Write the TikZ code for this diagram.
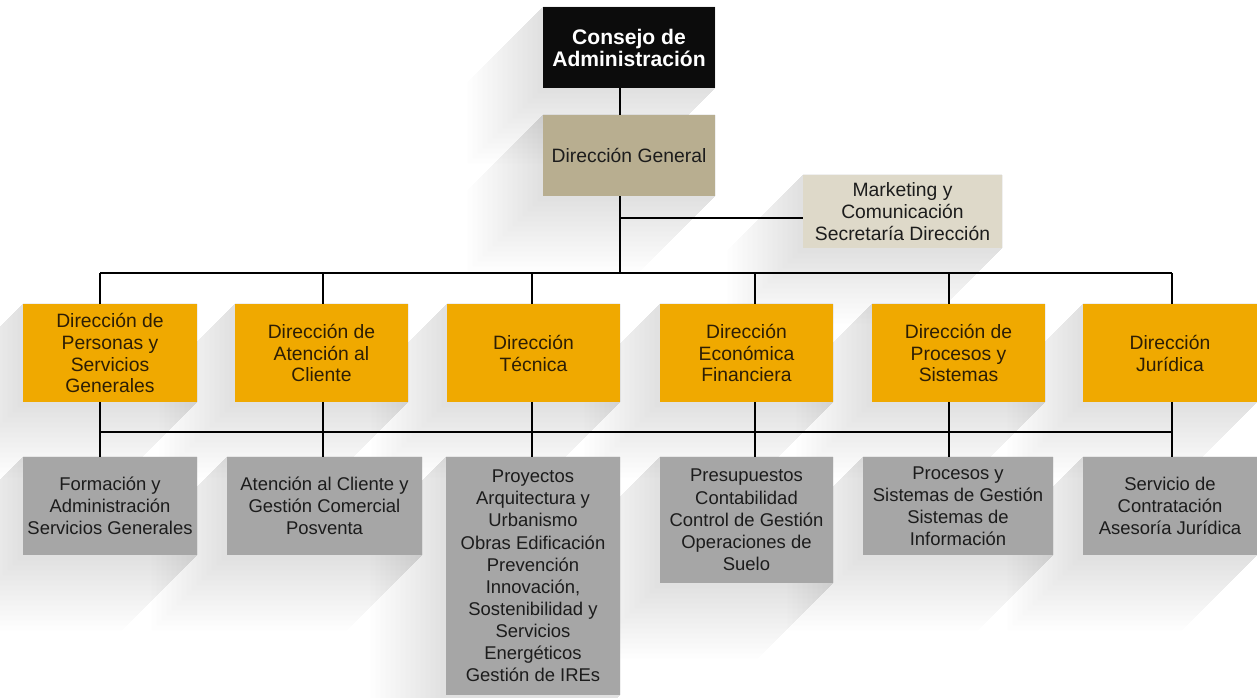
\documentclass[tikz,border=0pt]{standalone}
\usepackage{fontspec}
\setmainfont{Liberation Sans}
\usetikzlibrary{calc}
\pgfdeclarelayer{shadow}
\pgfsetlayers{shadow,main}
\definecolor{orangebox}{RGB}{240,169,0}
\definecolor{graybox}{RGB}{166,166,166}
\definecolor{tanbox}{RGB}{184,174,144}
\definecolor{beigebox}{RGB}{222,217,201}
\definecolor{blackbox}{RGB}{12,12,12}
\definecolor{browntext}{RGB}{45,30,5}
\definecolor{darktext}{RGB}{28,28,28}
\tikzset{
  box/.style={rectangle, inner sep=0pt, align=center, anchor=center},
  topbox/.style={box, fill=blackbox, text=white, font=\bfseries\fontsize{12}{12.5}\selectfont,
     minimum width=3.44cm, minimum height=1.62cm},
  genbox/.style={box, fill=tanbox, text=darktext, font=\fontsize{11}{12.5}\selectfont,
     minimum width=3.44cm, minimum height=1.62cm},
  mkbox/.style={box, fill=beigebox, text=darktext, font=\fontsize{11}{12.5}\selectfont,
     minimum width=3.98cm, minimum height=1.46cm},
  dirbox/.style={box, fill=orangebox, text=browntext, font=\fontsize{11}{12.5}\selectfont,
     minimum height=1.96cm},
  subbox/.style={box, fill=graybox, text=darktext, font=\fontsize{10.5}{12.6}\selectfont},
  link/.style={draw=black, line width=1.6pt},
  longshadow/.style={fill=black, fill opacity=0.0075},
}
\begin{document}
\begin{tikzpicture}[x=0.02cm, y=-0.02cm]
\useasboundingbox (0,0) rectangle (1257,697);

% top
\node[topbox] (cons) at (629,47.5) {Consejo de\\Administración};
\node[genbox] (dg) at (629,155.5) {Dirección General};
\node[mkbox] (mk) at (902.5,211.5) {Marketing y\\Comunicación\\Secretaría Dirección};

% directions
\node[dirbox, minimum width=3.48cm] (o1) at (110,353) {Dirección de\\Personas y\\Servicios\\Generales};
\node[dirbox, minimum width=3.46cm] (o2) at (321.5,353) {Dirección de\\Atención al\\Cliente};
\node[dirbox, minimum width=3.46cm] (o3) at (533.5,353) {Dirección\\Técnica};
\node[dirbox, minimum width=3.46cm] (o4) at (746.5,353) {Dirección\\Económica\\Financiera};
\node[dirbox, minimum width=3.46cm] (o5) at (958.5,353) {Dirección de\\Procesos y\\Sistemas};
\node[dirbox, minimum width=3.48cm] (o6) at (1170,353) {Dirección\\Jurídica};

% sub units
\node[subbox, minimum width=3.48cm, minimum height=1.96cm] (g1) at (110,506) {Formación y\\Administración\\Servicios Generales};
\node[subbox, minimum width=3.90cm, minimum height=1.96cm] (g2) at (324.5,506) {Atención al Cliente y\\Gestión Comercial\\Posventa};
\node[subbox, minimum width=3.48cm, minimum height=4.76cm] (g3) at (533,576) {Proyectos\\Arquitectura y\\Urbanismo\\Obras Edificación\\Prevención\\Innovación,\\Sostenibilidad y\\Servicios\\Energéticos\\Gestión de IREs};
\node[subbox, minimum width=3.46cm, minimum height=2.52cm] (g4) at (746.5,520) {Presupuestos\\Contabilidad\\Control de Gestión\\Operaciones de\\Suelo};
\node[subbox, minimum width=3.80cm, minimum height=1.96cm] (g5) at (958,506) {Procesos y\\Sistemas de Gestión\\Sistemas de\\Información};
\node[subbox, minimum width=3.48cm, minimum height=1.96cm] (g6) at (1170,506) {Servicio de\\Contratación\\Asesoría Jurídica};

% soft long shadows (stacked translucent layers)
\begin{pgfonlayer}{shadow}
\foreach \n in {cons,dg,mk,o1,o2,o3,o4,o5,o6,g1,g2,g3,g4,g5,g6}{
  \foreach \L in {5,10,...,75}{
    \fill[longshadow] (\n.north west) -- (\n.north east) -- (\n.south east)
      -- ($(\n.south east)+(-\L,\L)$) -- ($(\n.south west)+(-\L,\L)$)
      -- ($(\n.north west)+(-\L,\L)$) -- cycle;
  }
}
\end{pgfonlayer}

% junction coordinates
\coordinate (tr) at (620,0);
\coordinate (mkj) at (620,218);
\coordinate (busA) at (0,273);
\coordinate (busB) at (0,432);
\coordinate (x1) at (100,0);
\coordinate (x2) at (323,0);
\coordinate (x3) at (532,0);
\coordinate (x4) at (755,0);
\coordinate (x5) at (949,0);
\coordinate (x6) at (1172,0);

% connectors
\draw[link] (cons.south -| tr) -- (dg.north -| tr);
\draw[link] (dg.south -| tr) -- (busA -| tr);
\draw[link] (mkj) -- (mkj -| mk.west);
\draw[link] (busA -| x1) -- (busA -| x6);
\draw[link] (busB -| x1) -- (busB -| x6);
\foreach \i in {1,...,6}{
  \draw[link] (busA -| x\i) -- (o\i.north -| x\i);
  \draw[link] (o\i.south -| x\i) -- (g\i.north -| x\i);
}
\end{tikzpicture}
\end{document}
